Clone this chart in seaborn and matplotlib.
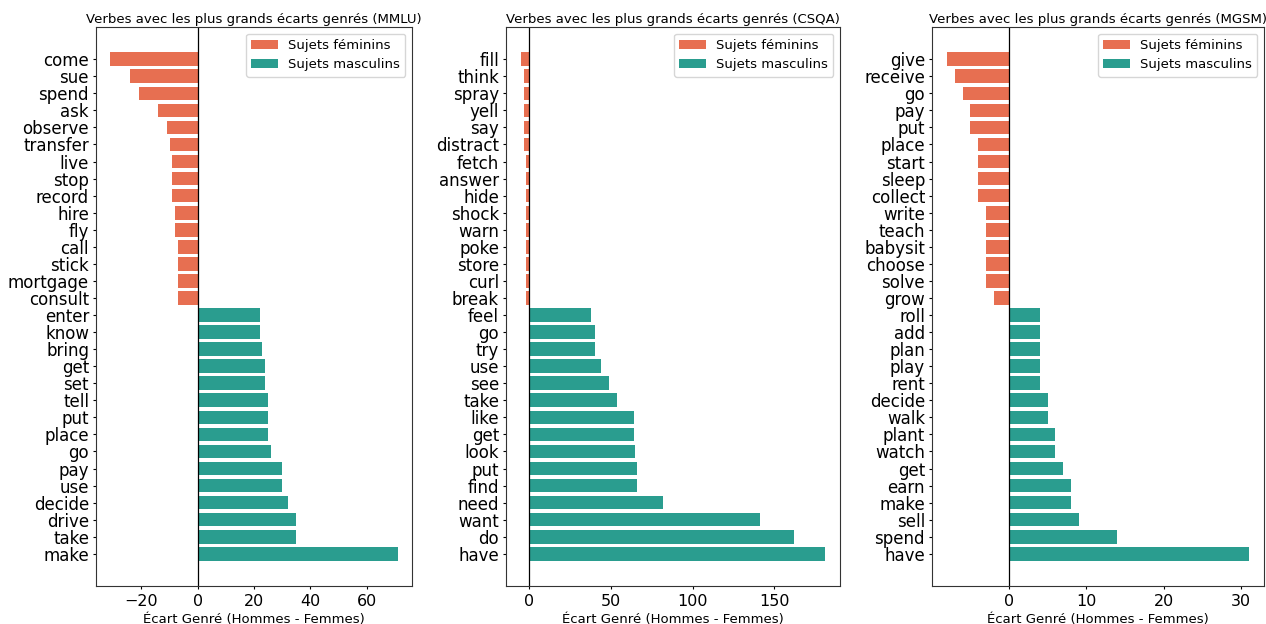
import matplotlib
matplotlib.use("Agg")
import matplotlib.pyplot as plt
import seaborn as sns
import pandas as pd

# --- data ---
mmlu_verbs = ["come", "sue", "spend", "ask", "observe", "transfer", "live", "stop",
              "record", "hire", "fly", "call", "stick", "mortgage", "consult",
              "enter", "know", "bring", "get", "set", "tell", "put", "place", "go",
              "pay", "use", "decide", "drive", "take", "make"]
mmlu_gap = [-31, -24, -21, -14, -11, -10, -9, -9, -9, -8, -8, -7, -7, -7, -7,
            22, 22, 23, 24, 24, 25, 25, 25, 26, 30, 30, 32, 35, 35, 71]

csqa_verbs = ["fill", "think", "spray", "yell", "say", "distract", "fetch", "answer",
              "hide", "shock", "warn", "poke", "store", "curl", "break",
              "feel", "go", "try", "use", "see", "take", "like", "get", "look", "put",
              "find", "need", "want", "do", "have"]
csqa_gap = [-5, -3, -3, -3, -3, -3, -2, -2, -2, -2, -2, -2, -2, -2, -2,
            38, 40, 40, 44, 49, 54, 64, 64, 65, 66, 66, 82, 141, 162, 181]

mgsm_verbs = ["give", "receive", "go", "pay", "put", "place", "start", "sleep",
              "collect", "write", "teach", "babysit", "choose", "solve", "grow",
              "roll", "add", "plan", "play", "rent", "decide", "walk", "plant",
              "watch", "get", "earn", "make", "sell", "spend", "have"]
mgsm_gap = [-8, -7, -6, -5, -5, -4, -4, -4, -4, -3, -3, -3, -3, -3, -2,
            4, 4, 4, 4, 4, 5, 5, 6, 6, 7, 8, 8, 9, 14, 31]

datasets = ["MMLU", "CSQA", "MGSM"]
fem_label = "Sujets féminins"
masc_label = "Sujets masculins"
palette = {fem_label: "#E76F51", masc_label: "#2A9D8F"}

panels = [(mmlu_verbs, mmlu_gap), (csqa_verbs, csqa_gap), (mgsm_verbs, mgsm_gap)]

W, H = 1266, 624
fig = plt.figure(figsize=(W / 100, H / 100), dpi=100)
# axes boxes in pixels: left, right, top, bottom
boxes = [(96, 412), (506, 840), (932, 1264)]
top, bottom = 27, 586

for (verbs, gap), name, (l, r) in zip(panels, datasets, boxes):
    ax = fig.add_axes([l / W, 1 - bottom / H, (r - l) / W, (bottom - top) / H])
    df = pd.DataFrame({"verb": verbs, "gap": gap})
    df["genre"] = [fem_label if g < 0 else masc_label for g in gap]
    sns.barplot(data=df, x="gap", y="verb", hue="genre", orient="h",
                hue_order=[fem_label, masc_label], palette=palette,
                dodge=False, width=0.8, saturation=1, ax=ax)
    n = len(verbs)
    pad = 0.4 + 0.05 * (n - 0.2)
    ax.set_ylim(n - 1 + pad, -pad)
    ax.axvline(0, color="black", linewidth=0.9)
    ax.set_title(f"Verbes avec les plus grands écarts genrés ({name})", fontsize=9.5, pad=3)
    ax.set_xlabel("Écart Genré (Hommes - Femmes)", fontsize=9.5, labelpad=3)
    ax.set_ylabel("")
    ax.tick_params(axis="y", labelsize=12, length=2.5, pad=2.5)
    ax.tick_params(axis="x", labelsize=11.5, length=2.5, pad=3)
    for s in ax.spines.values():
        s.set_color("0.2")
    ax.legend(loc="upper right", fontsize=9.5, title=None)

fig.savefig("out.png", dpi=100)
